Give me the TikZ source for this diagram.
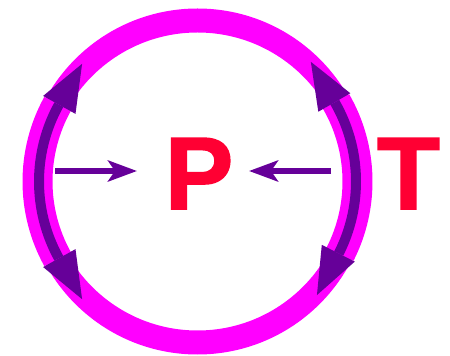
\documentclass[tikz,border=0pt]{standalone}
\usepackage{fontspec}
\newfontfamily\bigfont{Liberation Sans Bold}[FakeBold=1.5]
\usetikzlibrary{arrows.meta,calc}
\definecolor{mag}{HTML}{FF00FF}
\definecolor{purp}{HTML}{660099}
\definecolor{redt}{HTML}{FF0033}
\newcommand\archead[2]{\fill[purp] (#1:176.5) -- ($(#1:158)+(#2:47)$) -- (#1:139.5) -- cycle;}
\begin{document}
\begin{tikzpicture}[x=1pt,y=1pt,
  ring/.style={draw=mag,line width=24pt},
  ringwide/.style={draw=mag,line width=30pt},
  purparc/.style={draw=purp,line width=10pt},
  harrow/.style={draw=purp,line width=6pt,-{Stealth[length=29pt,width=21pt,inset=7pt]}},
  letter/.style={font=\bigfont\fontsize{103}{103}\selectfont,text=redt,anchor=base,inner sep=0pt}]
\useasboundingbox (0,0) rectangle (450,356);
\coordinate (c) at (197.5,174.5);
\draw[ring] (c) circle[radius=161];
\begin{scope}[shift={(c)}]
  \draw[ringwide] (151:160) arc[start angle=151,end angle=209,radius=160];
  \draw[ringwide] (-27:160) arc[start angle=-27,end angle=30,radius=160];
  \draw[purparc] (151:158.5) arc[start angle=151,end angle=209,radius=158.5];
  \draw[purparc] (-27:158.5) arc[start angle=-27,end angle=30,radius=158.5];
  \archead{151}{61}
  \archead{209}{299}
  \archead{30}{120}
  \archead{-27}{-117}
\end{scope}
\coordinate (la) at (55,185);
\coordinate (lb) at (137,185);
\coordinate (ra) at (331,185);
\coordinate (rb) at (249,185);
\draw[harrow] (la) -- (lb);
\draw[harrow] (ra) -- (rb);
\node[letter] (p) at (199,147) {P};
\node[letter] (t) at (408.5,147) {T};
\end{tikzpicture}
\end{document}
